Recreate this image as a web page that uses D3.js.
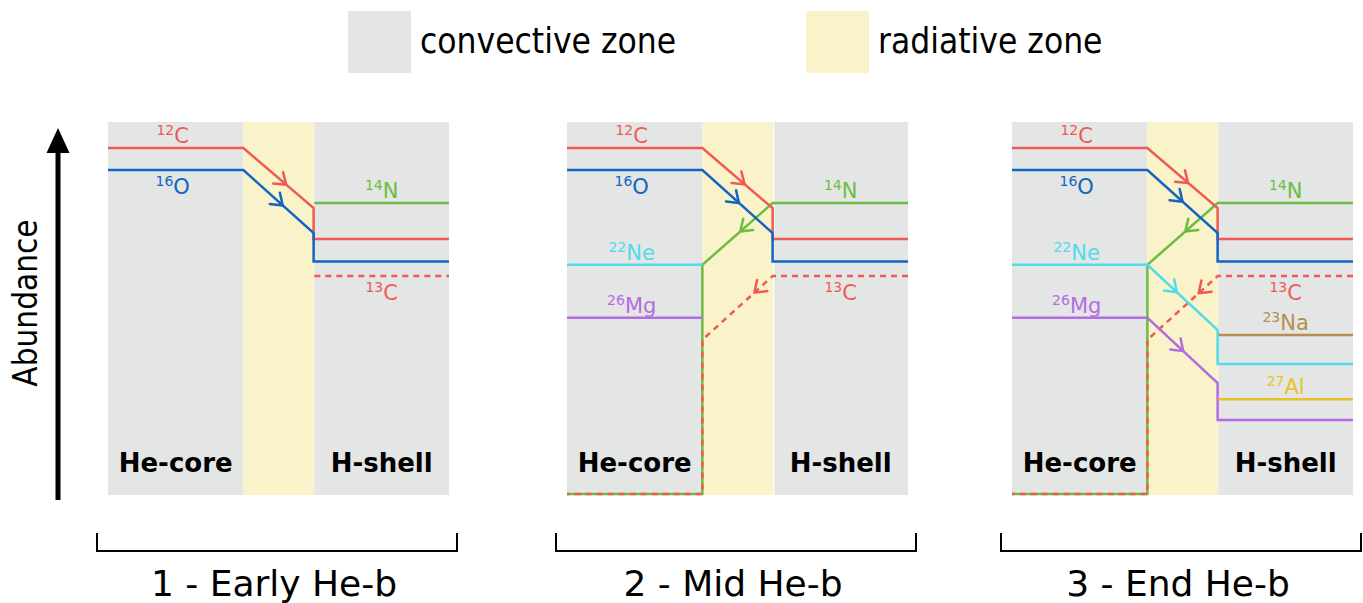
<!doctype html>
<html>
<head>
<meta charset="utf-8">
<script src="https://cdnjs.cloudflare.com/ajax/libs/d3/7.8.5/d3.min.js"></script>
<style>
  body { margin: 0; background: #fff; }
  svg { display: block; }
  .iso { font-family: "DejaVu Sans", Verdana, sans-serif; font-size: 21px; text-anchor: middle; }
  .zone-name { font-family: "DejaVu Sans", Verdana, sans-serif; font-weight: bold; font-size: 26px; text-anchor: middle; fill: #000; }
  .narrow { font-family: "DejaVu Sans Condensed", "DejaVu Sans", sans-serif; font-stretch: condensed; fill: #000; }
  .stage { font-family: "DejaVu Sans", Verdana, sans-serif; font-size: 36px; text-anchor: middle; fill: #000; }
</style>
</head>
<body>
<svg width="1363" height="603"></svg>
<script>
// zone edges along the mass coordinate: core | radiative | shell
const zoneEdges = [0, 3.97, 6.05, 10];
const stageNames = ["1 - Early He-b", "2 - Mid He-b", "3 - End He-b"];
const legendNames = ["convective zone", "radiative zone"];

// abundance profiles [mass coordinate, abundance], listed in the direction of the flow
const c12 = [[0, 9.30], [3.97, 9.30], [6.03, 7.69], [6.03, 6.86], [10, 6.86]];
const o16 = [[0, 8.71], [3.97, 8.71], [6.03, 7.02], [6.03, 6.26], [10, 6.26]];
const n14Early = [[6.05, 7.83], [10, 7.83]];
const c13Early = [[6.05, 5.87], [10, 5.87]];
const n14 = [[10, 7.83], [6.03, 7.83], [3.97, 6.17], [3.97, 0.03], [0, 0.03]];
const c13 = [[10, 5.87], [6.03, 5.87], [3.97, 4.16], [3.97, 0.03], [0, 0.03]];
const ne22Mid = [[0, 6.17], [3.97, 6.17]];
const mg26Mid = [[0, 4.75], [3.97, 4.75]];
const ne22End = [[0, 6.17], [3.97, 6.17], [6.03, 4.42], [6.03, 3.51], [10, 3.51]];
const mg26End = [[0, 4.75], [3.97, 4.75], [6.03, 3.00], [6.03, 2.01], [10, 2.01]];
const na23 = [[6.05, 4.29], [10, 4.29]];
const al27 = [[6.05, 2.57], [10, 2.57]];

// which profiles each stage shows (drawing order)
const stageCurves = [
  [["14N", n14Early], ["13C", c13Early], ["12C", c12], ["16O", o16]],
  [["14N", n14], ["13C", c13], ["22Ne", ne22Mid], ["26Mg", mg26Mid], ["12C", c12], ["16O", o16]],
  [["14N", n14], ["13C", c13], ["22Ne", ne22End], ["26Mg", mg26End], ["23Na", na23], ["27Al", al27], ["12C", c12], ["16O", o16]]
];

// where on the sloped segment the flow arrow sits (fraction)
const arrowAt = [
  { "12C": 0.61, "16O": 0.56 },
  { "12C": 0.60, "16O": 0.52, "14N": 0.46, "13C": 0.26 },
  { "12C": 0.58, "16O": 0.50, "14N": 0.46, "13C": 0.27, "22Ne": 0.42, "26Mg": 0.51 }
];

// isotope labels: mass number, element, zone, abundance of the line, side
const labelsEarly = [["12", "C", "core", 9.30, "above"], ["16", "O", "core", 8.71, "below"],
                     ["14", "N", "shell", 7.83, "above"], ["13", "C", "shell", 5.87, "below"]];
const labelsMid = labelsEarly.concat([["22", "Ne", "core", 6.17, "above"], ["26", "Mg", "core", 4.75, "above"]]);
const labelsEnd = labelsMid.concat([["23", "Na", "shell", 4.29, "above"], ["27", "Al", "shell", 2.57, "above"]]);
const stageLabels = [labelsEarly, labelsMid, labelsEnd];

const colors = {
  "12C": "#ee5a55", "13C": "#ee5a55", "16O": "#1265c0", "14N": "#6bbd42",
  "22Ne": "#52dbe8", "26Mg": "#b26ee0", "23Na": "#b3904e", "27Al": "#e7c327"
};

const convColor = "#e4e5e5", radColor = "#faf3c9";
const panelLeft = [108, 567, 1012], panelW = 341, yTop = 122, yBottom = 495;
const shellGap = [0, 1, 0];

const svg = d3.select("svg");

// legend
const legend = svg.append("g");
[[348, convColor, legendNames[0]], [806, radColor, legendNames[1]]].forEach(([lx, c, name]) => {
  legend.append("rect").attr("x", lx).attr("y", 11).attr("width", 63).attr("height", 62).attr("fill", c);
  legend.append("text").attr("class", "narrow").attr("x", lx + 72).attr("y", 53)
    .style("font-size", "35px").text(name);
});

// abundance axis
svg.append("line").attr("x1", 58).attr("x2", 58).attr("y1", 500).attr("y2", 148)
  .attr("stroke", "#000").attr("stroke-width", 5);
svg.append("path").attr("d", "M58,128 L46.5,153 L69.5,153 Z").attr("fill", "#000");
svg.append("text").attr("class", "narrow")
  .attr("transform", "translate(37,303) rotate(-90)")
  .attr("text-anchor", "middle").style("font-size", "33px").text("Abundance");

const y = d3.scaleLinear().domain([0, 10]).range([yBottom, yTop]);
const line = d3.line();

function arrowHead(g, p0, p1, t, color) {
  const tip = [p0[0] + t * (p1[0] - p0[0]), p0[1] + t * (p1[1] - p0[1])];
  const a = Math.atan2(p1[1] - p0[1], p1[0] - p0[0]);
  const len = 13, spread = 0.62;
  const arm = s => [tip[0] - len * Math.cos(a + s), tip[1] - len * Math.sin(a + s)];
  g.append("path").attr("d", line([arm(spread), tip, arm(-spread)]))
    .attr("fill", "none").attr("stroke", color).attr("stroke-width", 2.5)
    .attr("stroke-linecap", "round").attr("stroke-linejoin", "round");
}

stageNames.forEach((stage, i) => {
  const x = d3.scaleLinear().domain([0, 10]).range([panelLeft[i], panelLeft[i] + panelW]);
  const g = svg.append("g");

  // zones
  g.append("rect").attr("x", x(zoneEdges[0])).attr("y", yTop)
    .attr("width", x(zoneEdges[1]) - x(zoneEdges[0])).attr("height", yBottom - yTop).attr("fill", convColor);
  g.append("rect").attr("x", x(zoneEdges[1])).attr("y", yTop)
    .attr("width", x(zoneEdges[2]) - x(zoneEdges[1])).attr("height", yBottom - yTop).attr("fill", radColor);
  g.append("rect").attr("x", x(zoneEdges[2]) + shellGap[i]).attr("y", yTop)
    .attr("width", x(zoneEdges[3]) - x(zoneEdges[2]) - shellGap[i]).attr("height", yBottom - yTop).attr("fill", convColor);

  const coreMid = x((zoneEdges[0] + zoneEdges[1]) / 2);
  const shellMid = x((zoneEdges[2] + zoneEdges[3]) / 2);
  g.append("text").attr("class", "zone-name").attr("x", coreMid).attr("y", 472).text("He-core");
  g.append("text").attr("class", "zone-name").attr("x", shellMid).attr("y", 472).text("H-shell");

  // profiles
  stageCurves[i].forEach(([iso, pts]) => {
    const px = pts.map(p => [x(p[0]), y(p[1])]);
    g.append("path").attr("d", line(px))
      .attr("fill", "none").attr("stroke", colors[iso]).attr("stroke-width", 2.5)
      .attr("stroke-dasharray", iso === "13C" ? "6,5" : null);
    const t = arrowAt[i][iso];
    if (t !== undefined) arrowHead(g, px[1], px[2], t, colors[iso]);
  });

  // isotope labels
  stageLabels[i].forEach(([mass, el, zone, val, side]) => {
    const iso = mass + el;
    const tx = zone === "core" ? coreMid - 3 : shellMid;
    const ty = side === "above" ? y(val) - 5 : y(val) + 24;
    const t = g.append("text").attr("class", "iso").attr("x", tx).attr("y", ty).attr("fill", colors[iso]);
    t.append("tspan").style("font-size", "14px").attr("dy", -8).text(mass);
    t.append("tspan").attr("dy", 8).text(el);
  });

  // bracket and stage title
  const bl = panelLeft[i] - 11, br = panelLeft[i] + panelW + 8;
  g.append("path").attr("d", `M${bl},533 V551 H${br} V533`)
    .attr("fill", "none").attr("stroke", "#000").attr("stroke-width", 2);
  g.append("text").attr("class", "stage").attr("x", (bl + br) / 2 - 3).attr("y", 596).text(stage);
});
</script>
</body>
</html>
